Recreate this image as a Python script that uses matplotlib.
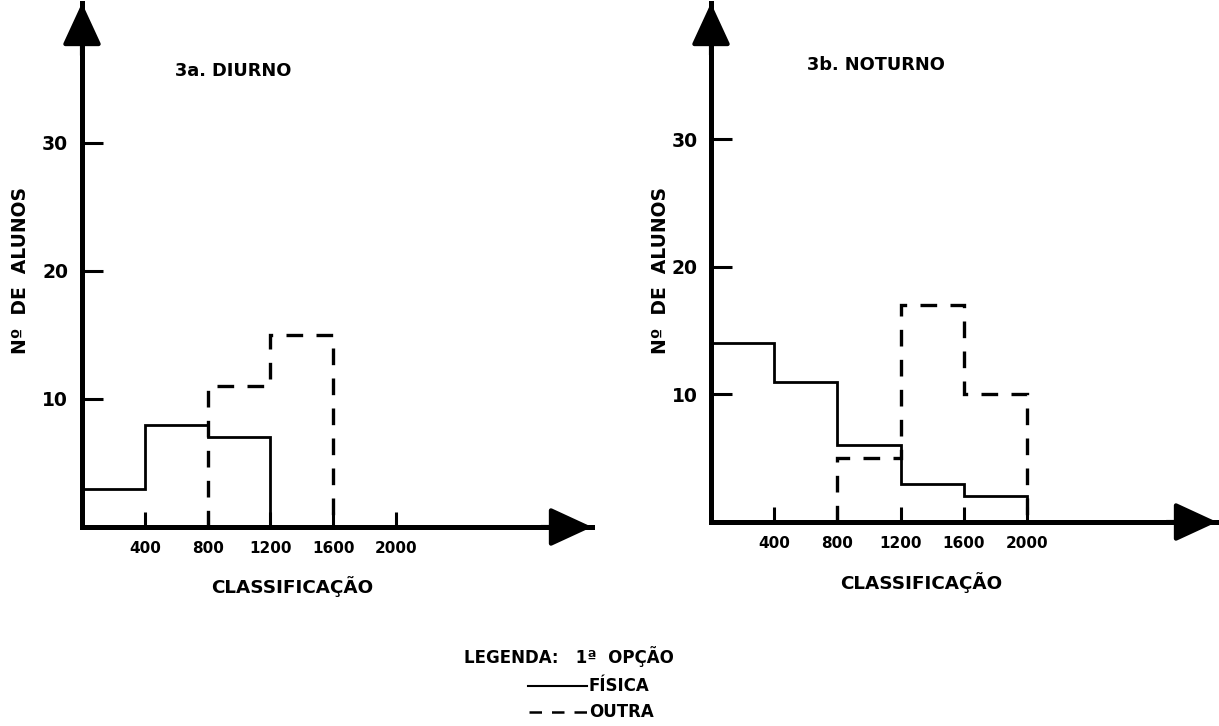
import matplotlib
matplotlib.use('Agg')
import matplotlib.pyplot as plt

plt.rcParams['font.family'] = ['DejaVu Sans']
plt.rcParams['font.weight'] = 'bold'

# classificacao (limites das classes) e numero de alunos
edges_diurno = [0, 400, 800, 1200, 1600]
fisica_diurno = [3, 8, 7]
outra_diurno = [11, 15]

edges_noturno = [0, 400, 800, 1200, 1600, 2000]
fisica_noturno = [14, 11, 6, 3, 2]
outra_noturno = [5, 17, 10]

xticks = [400, 800, 1200, 1600, 2000]
yticks = [10, 20, 30]

W, H = 1219, 726
fig = plt.figure(figsize=(W / 100, H / 100), dpi=100)


def panel(px, xmax, ymax, edges, fisica, n_fis, outra, titulo, tpos, ypad):
    # px = (esquerda, base, largura, altura) em pixels da imagem
    l, b, w, h = px
    ax = fig.add_axes([l / W, (H - b) / H, w / W, h / H])
    ax.set_xlim(0, xmax)
    ax.set_ylim(0, ymax)
    ax.stairs(fisica, edges[:n_fis + 1], baseline=0, color='black', lw=2.0)
    ax.stairs(outra, edges[2:2 + len(outra) + 1], baseline=0, color='black',
              lw=2.4, linestyle=(0, (5, 4)))
    for s in ['top', 'right']:
        ax.spines[s].set_visible(False)
    for s in ['left', 'bottom']:
        ax.spines[s].set_linewidth(3.6)
    ax.set_xticks(xticks)
    ax.set_yticks(yticks)
    ax.tick_params(axis='y', direction='in', length=15, width=2.2, pad=ypad, labelsize=13.5)
    ax.tick_params(axis='x', direction='in', length=11, width=2.2, pad=10, labelsize=11)
    arrow = dict(arrowstyle='-|>,head_length=1.3,head_width=0.6', color='black',
                 lw=3, mutation_scale=20, shrinkA=0, shrinkB=0)
    ax.annotate('', xy=(0, 1.0), xytext=(0, 0.9), xycoords='axes fraction',
                arrowprops=arrow, annotation_clip=False)
    ax.annotate('', xy=(1.0, 0), xytext=(0.9, 0), xycoords='axes fraction',
                arrowprops=arrow, annotation_clip=False)
    fig.text(tpos[0] / W, 1 - tpos[1] / H, titulo, fontsize=12.8, va='center')
    return ax


ax1 = panel((82, 527, 510, 524), 3248, 40.9, edges_diurno, fisica_diurno, 3,
            outra_diurno, '3a. DIURNO', (175, 71), 10)
ax2 = panel((711, 522, 506, 519), 3203, 40.7, edges_noturno, fisica_noturno, 5,
            outra_noturno, '3b. NOTURNO', (807, 65), 9.5)

for x, y in [(21, 270), (661, 270)]:
    fig.text(x / W, 1 - y / H, 'Nº  DE  ALUNOS', fontsize=13.5, rotation=90,
             ha='center', va='center')
for x, y in [(292, 587), (921, 583)]:
    fig.text(x / W, 1 - y / H, 'CLASSIFICAÇÃO', fontsize=13.2, ha='center', va='center')

fig.text(464 / W, 1 - 657 / H, 'LEGENDA:   1ª  OPÇÃO', fontsize=12, va='center')
fig.add_artist(plt.Line2D([528 / W, 587 / W], [1 - 686 / H] * 2, color='black', lw=1.5))
fig.text(589 / W, 1 - 686 / H, 'FÍSICA', fontsize=12, va='center')
fig.add_artist(plt.Line2D([529 / W, 588 / W], [1 - 712 / H] * 2, color='black', lw=1.8,
                          linestyle=(0, (5, 4))))
fig.text(589 / W, 1 - 712 / H, 'OUTRA', fontsize=12, va='center')

fig.savefig('out.png', dpi=100)
